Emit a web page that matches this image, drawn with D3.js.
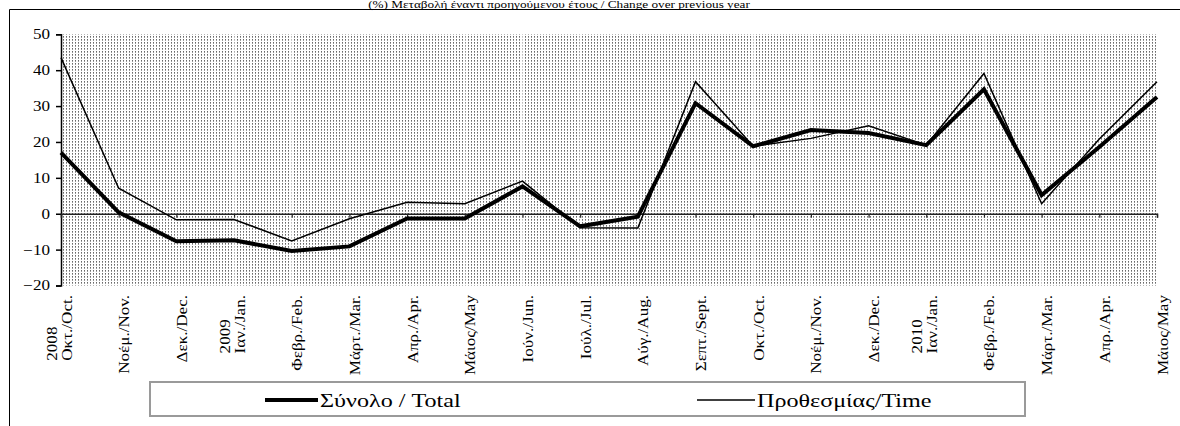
<!DOCTYPE html>
<html><head><meta charset="utf-8">
<script src="https://cdn.jsdelivr.net/npm/d3@7"></script>
<style>html,body{margin:0;padding:0;background:#fff;}svg{display:block;}text{font-family:"Liberation Serif","Times New Roman",serif;fill:#000;}</style>
</head><body>
<script>
const months = ["Οκτ./Oct.","Νοέμ./Nov.","Δεκ./Dec.","Ιαν./Jan.","Φεβρ./Feb.","Μάρτ./Mar.","Απρ./Apr.","Μάιος/May","Ιούν./Jun.","Ιούλ./Jul.","Αύγ./Aug.","Σεπτ./Sept.","Οκτ./Oct.","Νοέμ./Nov.","Δεκ./Dec.","Ιαν./Jan.","Φεβρ./Feb.","Μάρτ./Mar.","Απρ./Apr.","Μάιος/May"];
const years = ["2008","","","2009","","","","","","","","","","","","2010","","","",""];
const total = [17, 0.4, -7.7, -7.4, -10.4, -9.1, -1.3, -1.3, 7.6, -3.5, -0.8, 30.8, 18.8, 23.3, 22.5, 19.1, 34.7, 5.2, 18.6, 32.5];
const time  = [43.5, 7.1, -1.7, -1.6, -7.6, -1.4, 3.2, 2.8, 9.1, -3.9, -4.0, 36.8, 18.8, 21.0, 24.5, 19.1, 39.1, 2.8, 20.8, 36.8];
const yTicks = [-20,-10,0,10,20,30,40,50];
const title = "(%) Μεταβολή έναντι προηγούμενου έτους / Change over previous year";
const legendLabels = ["Σύνολο / Total", "Προθεσμίας/Time"];

(function(){
const W = 1180, H = 426;
const SX = 1.22; // horizontal glyph stretch seen in the reference
const svg = d3.select("body").append("svg").attr("width", W).attr("height", H);
const defs = svg.append("defs");
const pat = defs.append("pattern").attr("id","dots").attr("patternUnits","userSpaceOnUse")
  .attr("width",3).attr("height",3);
pat.append("rect").attr("width",3).attr("height",3).attr("fill","#fff");
pat.append("rect").attr("x",0).attr("y",0).attr("width",1).attr("height",1).attr("fill","#6a6a6a");
pat.append("rect").attr("x",0).attr("y",1).attr("width",1).attr("height",1).attr("fill","#9a9a9a");

// outer frame
svg.append("path").attr("d","M9.5,426V9.5H1180").attr("fill","none").attr("stroke","#000").attr("stroke-width",1);

// title
svg.append("text").attr("transform","translate(559,8) scale(1.26,1)").attr("text-anchor","middle")
  .attr("font-size",10.5).text(title);

const pL = 61, pR = 1157, pT = 34.3, pB = 285.5;
const x = d3.scalePoint().domain(d3.range(months.length)).range([pL, pR]).padding(0);
const y = d3.scaleLinear().domain([-20, 50]).range([pB, pT]);

// plot background
svg.append("rect").attr("x",pL).attr("y",pT).attr("width",pR-pL).attr("height",pB-pT).attr("fill","url(#dots)");
svg.append("g").selectAll("line").data(d3.range(1, months.length)).join("line")
  .attr("x1", d=>x(d)).attr("x2", d=>x(d)).attr("y1", pT).attr("y2", pB)
  .attr("stroke","#fff").attr("stroke-opacity",0.55).attr("stroke-width",1.5);

// y axis
const yAxis = svg.append("g").attr("transform",`translate(${pL},0)`)
  .call(d3.axisLeft(y).tickValues(yTicks).tickSize(5).tickPadding(6).tickFormat(d3.format("d")));
yAxis.select(".domain").attr("stroke","#000").attr("stroke-width",1.5);
yAxis.selectAll(".tick line").attr("stroke","#000").attr("stroke-width",1.5);
yAxis.selectAll("text").attr("font-size",14).attr("font-family","Liberation Serif")
  .attr("x", -11/SX).attr("transform",`scale(${SX},1)`);

// zero axis with ticks
const xAxis = svg.append("g").attr("transform",`translate(0,${y(0)})`)
  .call(d3.axisBottom(x).tickSize(4).tickFormat(""));
xAxis.select(".domain").attr("stroke","#222").attr("stroke-width",1.5);
xAxis.selectAll(".tick line").attr("stroke","#222").attr("stroke-width",1.2);

// x labels (rotated)
const labelTop = 295;
months.forEach((m, i) => {
  const g = svg.append("g").attr("transform", `translate(${x(i)},${labelTop}) rotate(-90) scale(${SX},1)`);
  const lines = years[i] ? [years[i], m] : [m];
  const offs = years[i] ? [-4.5, 11] : [10.5];
  const texts = lines.map((t, k) => g.append("text").attr("font-size",14).attr("y", offs[k]).text(t));
  const maxLen = d3.max(texts, t => t.node().getComputedTextLength());
  texts.forEach(t => t.attr("x", -maxLen).attr("text-anchor","start"));
});

// lines
const line = d3.line().x((d,i)=>x(i)).y(d=>y(d));
svg.append("path").datum(time).attr("d",line).attr("fill","none").attr("stroke","#000").attr("stroke-width",1.5);
svg.append("path").datum(total).attr("d",line).attr("fill","none").attr("stroke","#000").attr("stroke-width",4);

// legend
svg.append("rect").attr("x",150).attr("y",382).attr("width",875).attr("height",34)
  .attr("fill","#fff").attr("stroke","#9a9a9a").attr("stroke-width",2);
const legItems = [{x1:265,x2:318,w:4,tx:320},{x1:697,x2:755,w:1.5,tx:757}];
legItems.forEach((it, k) => {
  svg.append("line").attr("x1",it.x1).attr("x2",it.x2).attr("y1",400).attr("y2",400).attr("stroke","#000").attr("stroke-width",it.w);
  svg.append("text").attr("transform",`translate(${it.tx},407) scale(1.27,1)`).attr("font-size",19).text(legendLabels[k]);
});
})();
</script>
</body></html>
